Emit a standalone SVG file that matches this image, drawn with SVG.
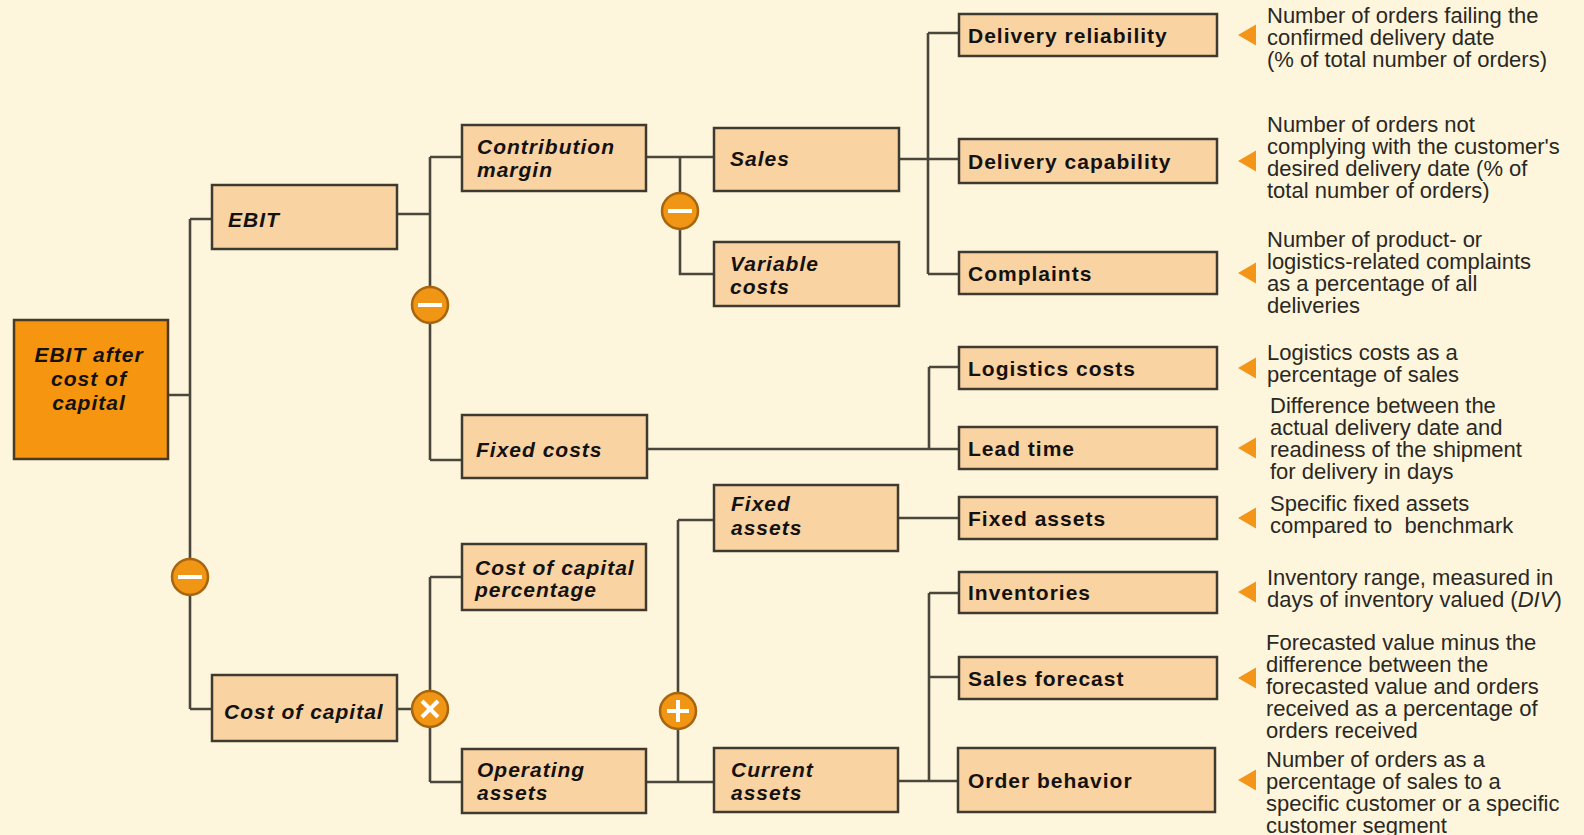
<svg xmlns="http://www.w3.org/2000/svg" width="1584" height="835" viewBox="0 0 1584 835">
  <defs>
    <style>
      .bg { fill: #fef6dc; }
      .box { fill: #fad3a3; stroke: #3f3a30; stroke-width: 2.5; }
      .root { fill: #f6950f; stroke: #4a3a22; stroke-width: 2.5; }
      .wire { fill: none; stroke: #4a463c; stroke-width: 2.6; }
      .op { fill: #f19514; stroke: #a8650f; stroke-width: 2.5; }
      .sym { stroke: #ffffff; stroke-width: 4; stroke-linecap: butt; fill: none; }
      .tri { fill: #f39519; }
      .lbl { font-family: "Liberation Sans", Arial, sans-serif; font-weight: bold; font-style: italic; font-size: 21px; letter-spacing: 1px; fill: #141210; }
      .kpi { font-family: "Liberation Sans", Arial, sans-serif; font-weight: bold; font-size: 21px; letter-spacing: 1px; fill: #141210; }
      .note { font-family: "Liberation Sans", Arial, sans-serif; font-size: 22px; fill: #2a2824; }
    </style>
    <path id="pointer" d="M0,0 L18,-10.5 L18,10.5 Z"/>
  </defs>

  <rect class="bg" x="0" y="0" width="1584" height="835"/>

  <!-- tree connectors -->
  <g id="connectors" class="wire">
    <path d="M168,395 H190 M190,219 V709 M190,219 H212 M190,709 H212"/>
    <path d="M397,214 H430 M430,157 V460 M430,157 H462 M430,460 H462"/>
    <path d="M646,157 H714 M680,157 V274 H714"/>
    <path d="M899,159 H959 M928,33 V274 M928,33 H959 M928,274 H959"/>
    <path d="M647,449 H959 M929,367 V449 M929,367 H959"/>
    <path d="M397,709 H430 M430,577 V782 M430,577 H462 M430,782 H462"/>
    <path d="M646,782 H714 M678,520 V782 M678,520 H714"/>
    <path d="M898,518 H959"/>
    <path d="M898,781 H959 M929,593 V781 M929,593 H959 M929,677 H959"/>
  </g>

  <!-- operators -->
  <g id="operators">
    <g id="op-ebit-minus"><circle class="op" cx="190" cy="577" r="18"/><path class="sym" d="M178,577 H202"/></g>
    <g id="op-margin-minus"><circle class="op" cx="430" cy="305" r="18"/><path class="sym" d="M418,305 H442"/></g>
    <g id="op-sales-minus"><circle class="op" cx="680" cy="211" r="18"/><path class="sym" d="M668,211 H692"/></g>
    <g id="op-times"><circle class="op" cx="430" cy="709" r="18"/><path class="sym" d="M422,701 L438,717 M438,701 L422,717"/></g>
    <g id="op-plus"><circle class="op" cx="678" cy="711" r="18"/><path class="sym" d="M667,711 H689 M678,700 V722"/></g>
  </g>

  <!-- driver tree -->
  <g id="n-root"><rect class="root" x="14" y="320" width="154" height="139"/>
    <text class="lbl" text-anchor="middle"><tspan x="89" y="362">EBIT after</tspan><tspan x="89" y="386">cost of</tspan><tspan x="89" y="410">capital</tspan></text></g>
  <g id="n-ebit"><rect class="box" x="212" y="185" width="185" height="64"/><text class="lbl" x="228" y="227">EBIT</text></g>
  <g id="n-margin"><rect class="box" x="462" y="125" width="184" height="66"/>
    <text class="lbl"><tspan x="477" y="154">Contribution</tspan><tspan x="477" y="177">margin</tspan></text></g>
  <g id="n-sales"><rect class="box" x="714" y="128" width="185" height="63"/><text class="lbl" x="730" y="166">Sales</text></g>
  <g id="n-varcost"><rect class="box" x="714" y="242" width="185" height="64"/>
    <text class="lbl"><tspan x="730" y="271">Variable</tspan><tspan x="730" y="294">costs</tspan></text></g>
  <g id="n-fixcost"><rect class="box" x="462" y="415" width="185" height="63"/><text class="lbl" x="476" y="457">Fixed costs</text></g>
  <g id="n-coc"><rect class="box" x="212" y="675" width="185" height="66"/><text class="lbl" x="224" y="719">Cost of capital</text></g>
  <g id="n-cocpct"><rect class="box" x="462" y="544" width="184" height="66"/>
    <text class="lbl"><tspan x="475" y="575">Cost of capital</tspan><tspan x="475" y="597">percentage</tspan></text></g>
  <g id="n-opassets"><rect class="box" x="462" y="749" width="184" height="64"/>
    <text class="lbl"><tspan x="477" y="777">Operating</tspan><tspan x="477" y="800">assets</tspan></text></g>
  <g id="n-fixassets"><rect class="box" x="714" y="485" width="184" height="66"/>
    <text class="lbl"><tspan x="731" y="511">Fixed</tspan><tspan x="731" y="535">assets</tspan></text></g>
  <g id="n-curassets"><rect class="box" x="714" y="748" width="184" height="64"/>
    <text class="lbl"><tspan x="731" y="777">Current</tspan><tspan x="731" y="800">assets</tspan></text></g>

  <!-- logistics KPIs -->
  <g id="k-reliability"><rect class="box" x="959" y="14" width="258" height="42"/><text class="kpi" x="968" y="43">Delivery reliability</text>
    <use href="#pointer" class="tri" x="1238" y="35"/>
    <text class="note"><tspan x="1267" y="23">Number of orders failing the</tspan><tspan x="1267" y="45">confirmed delivery date</tspan><tspan x="1267" y="67">(% of total number of orders)</tspan></text></g>
  <g id="k-capability"><rect class="box" x="959" y="139" width="258" height="44"/><text class="kpi" x="968" y="169">Delivery capability</text>
    <use href="#pointer" class="tri" x="1238" y="161"/>
    <text class="note"><tspan x="1267" y="132">Number of orders not</tspan><tspan x="1267" y="154">complying with the customer's</tspan><tspan x="1267" y="176">desired delivery date (% of</tspan><tspan x="1267" y="198">total number of orders)</tspan></text></g>
  <g id="k-complaints"><rect class="box" x="959" y="252" width="258" height="42"/><text class="kpi" x="968" y="281">Complaints</text>
    <use href="#pointer" class="tri" x="1238" y="273"/>
    <text class="note"><tspan x="1267" y="247">Number of product- or</tspan><tspan x="1267" y="269">logistics-related complaints</tspan><tspan x="1267" y="291">as a percentage of all</tspan><tspan x="1267" y="313">deliveries</tspan></text></g>
  <g id="k-logcost"><rect class="box" x="959" y="347" width="258" height="42"/><text class="kpi" x="968" y="376">Logistics costs</text>
    <use href="#pointer" class="tri" x="1238" y="368"/>
    <text class="note"><tspan x="1267" y="360">Logistics costs as a</tspan><tspan x="1267" y="382">percentage of sales</tspan></text></g>
  <g id="k-leadtime"><rect class="box" x="959" y="427" width="258" height="42"/><text class="kpi" x="968" y="456">Lead time</text>
    <use href="#pointer" class="tri" x="1238" y="448"/>
    <text class="note"><tspan x="1270" y="413">Difference between the</tspan><tspan x="1270" y="435">actual delivery date and</tspan><tspan x="1270" y="457">readiness of the shipment</tspan><tspan x="1270" y="479">for delivery in days</tspan></text></g>
  <g id="k-fixassets"><rect class="box" x="959" y="497" width="258" height="42"/><text class="kpi" x="968" y="526">Fixed assets</text>
    <use href="#pointer" class="tri" x="1238" y="518"/>
    <text class="note" style="white-space:pre"><tspan x="1270" y="511">Specific fixed assets</tspan><tspan x="1270" y="533">compared to  benchmark</tspan></text></g>
  <g id="k-inventories"><rect class="box" x="959" y="572" width="258" height="41"/><text class="kpi" x="968" y="600">Inventories</text>
    <use href="#pointer" class="tri" x="1238" y="592"/>
    <text class="note"><tspan x="1267" y="585">Inventory range, measured in</tspan><tspan x="1267" y="607">days of inventory valued (<tspan font-style="italic">DIV</tspan>)</tspan></text></g>
  <g id="k-forecast"><rect class="box" x="959" y="657" width="258" height="42"/><text class="kpi" x="968" y="686">Sales forecast</text>
    <use href="#pointer" class="tri" x="1238" y="678"/>
    <text class="note"><tspan x="1266" y="650">Forecasted value minus the</tspan><tspan x="1266" y="672">difference between the</tspan><tspan x="1266" y="694">forecasted value and orders</tspan><tspan x="1266" y="716">received as a percentage of</tspan><tspan x="1266" y="738">orders received</tspan></text></g>
  <g id="k-orders"><rect class="box" x="958" y="748" width="257" height="64"/><text class="kpi" x="968" y="788">Order behavior</text>
    <use href="#pointer" class="tri" x="1238" y="780"/>
    <text class="note"><tspan x="1266" y="767">Number of orders as a</tspan><tspan x="1266" y="789">percentage of sales to a</tspan><tspan x="1266" y="811">specific customer or a specific</tspan><tspan x="1266" y="833">customer segment</tspan></text></g>
</svg>
